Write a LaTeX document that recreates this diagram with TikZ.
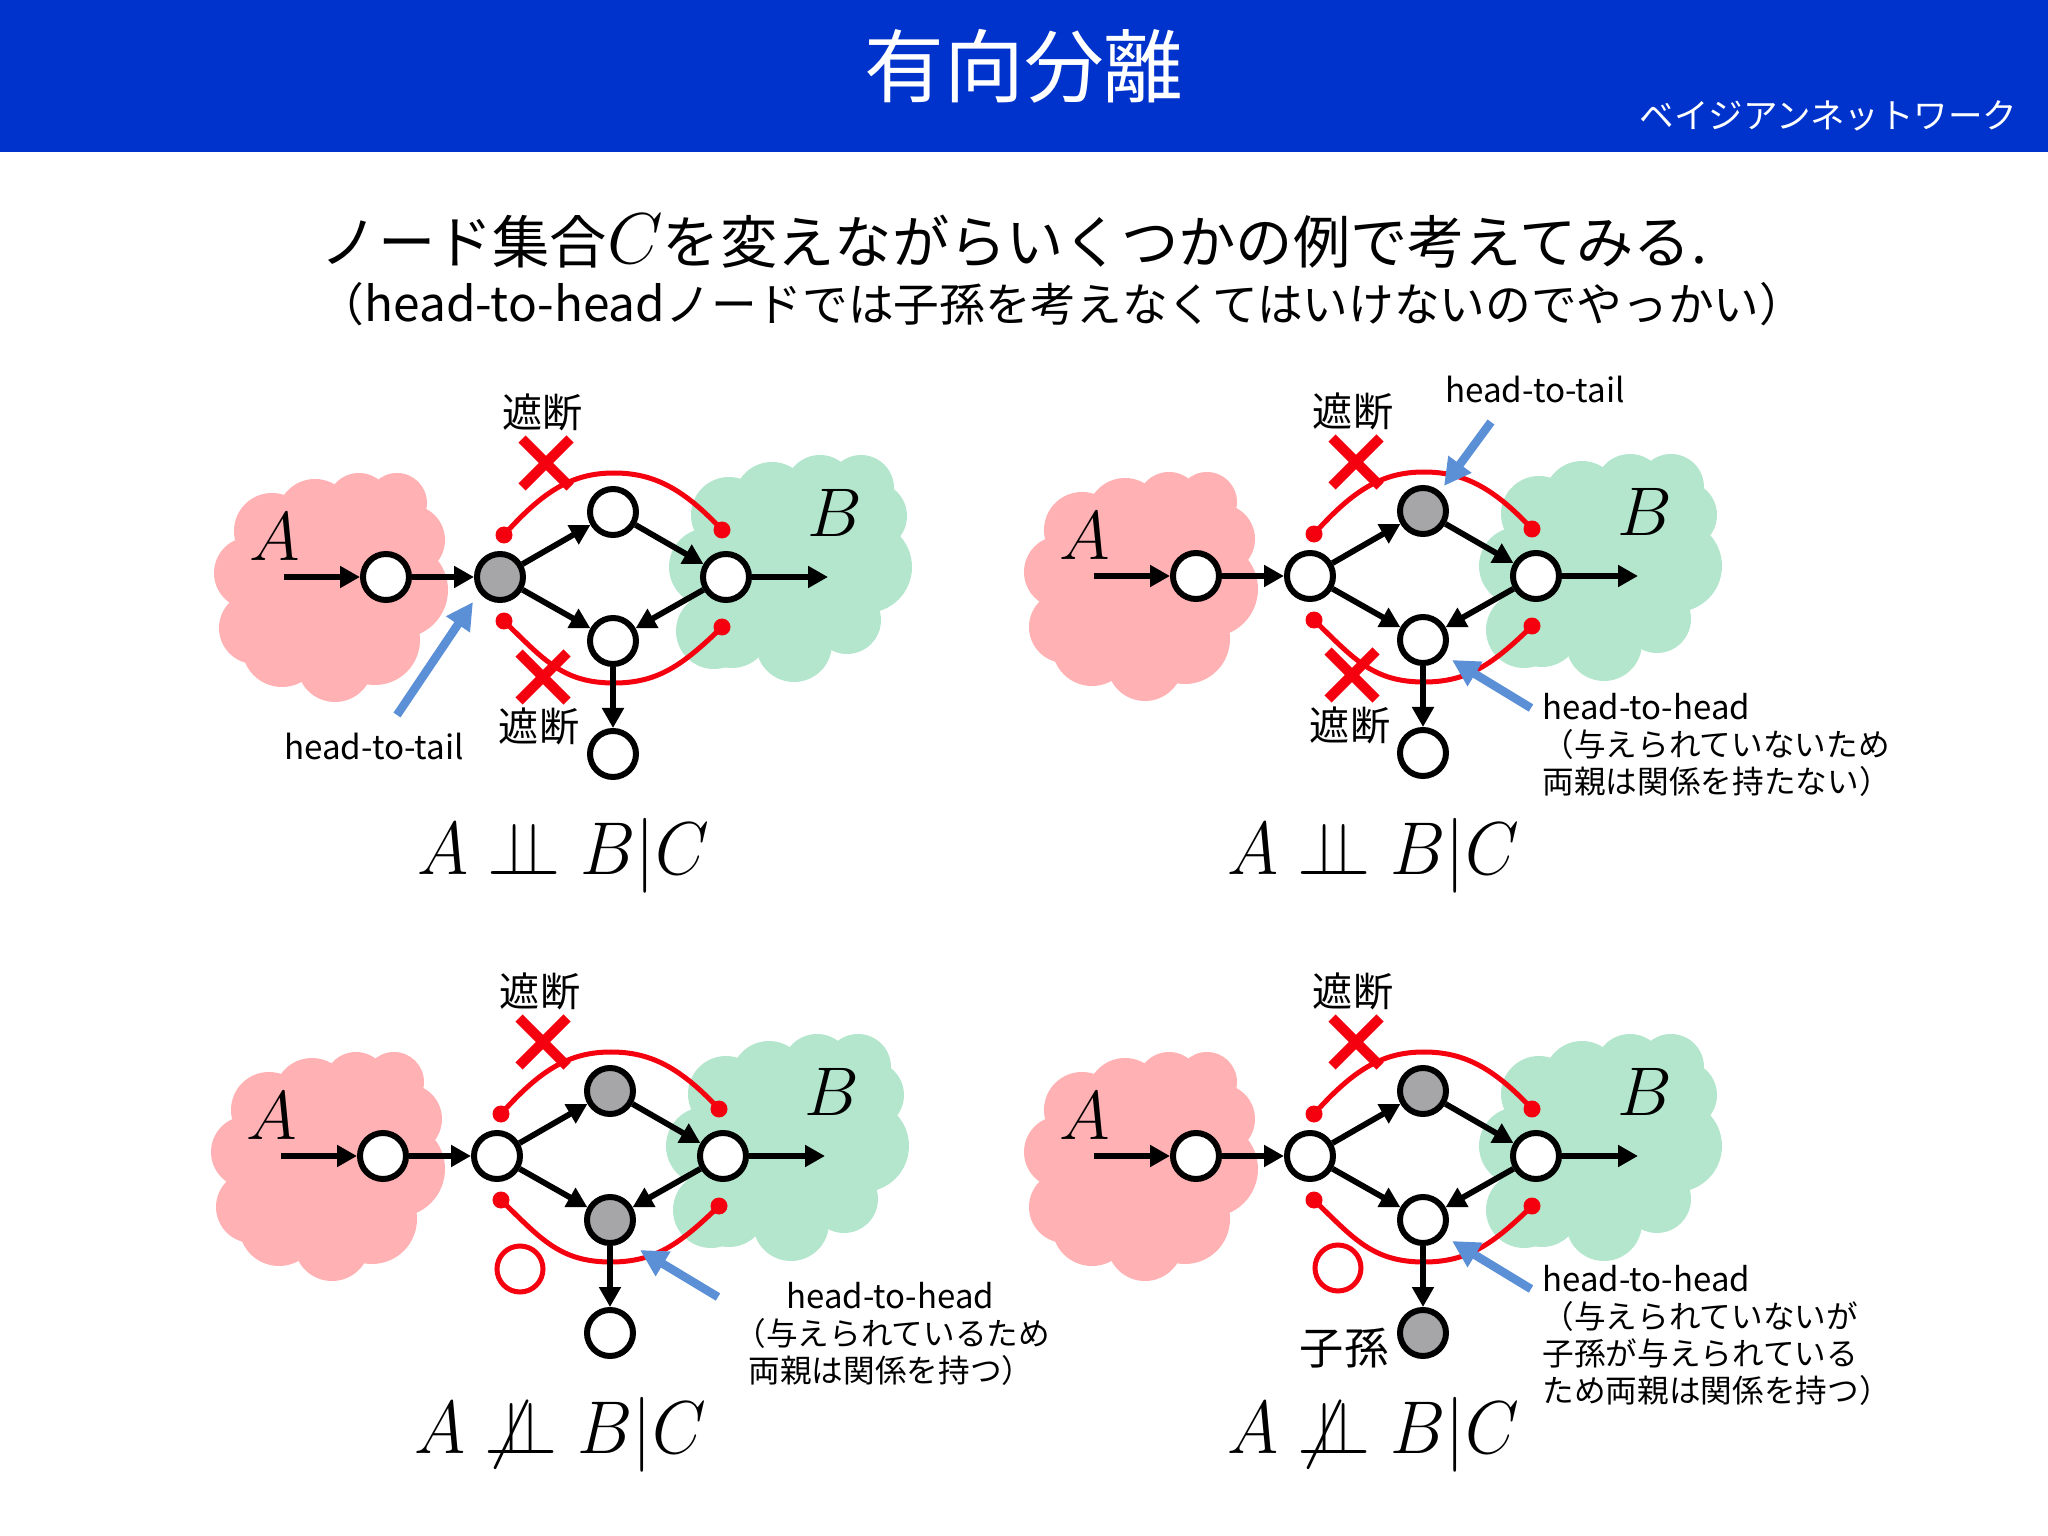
\documentclass[tikz,border=0pt]{standalone}
\usepackage{fix-cm}
\usepackage{graphicx}
\usepackage{fontspec}
\setmainfont{Noto Sans CJK JP}
\usetikzlibrary{arrows.meta,shapes.misc}
\definecolor{headerblue}{HTML}{0033CC}
\definecolor{cloudpink}{HTML}{FFB1B3}
\definecolor{cloudgreen}{HTML}{B3E6CD}
\definecolor{nodegray}{HTML}{A6A6A9}
\definecolor{markred}{HTML}{F5000F}
\definecolor{pointblue}{HTML}{5B8FD6}
\newcommand{\indep}{\mathrel{\perp\!\!\!\perp}}
\newcommand{\hthead}{{\fontsize{9.37}{10.5}\selectfont head-to-head}}
\tikzset{
  netnode/.style={circle,draw=black,line width=.06cm,minimum size=.46cm,inner sep=0pt},
  netarrow/.style={line width=.058cm,-{Triangle[length=.2cm,width=.21cm]}},
  reddot/.style={circle,fill=markred,minimum size=.17cm,inner sep=0pt},
  redpath/.style={draw=markred,line width=.05cm},
  crossmark/.style={cross out,draw=markred,line width=.1cm,minimum size=.38cm,inner sep=0pt},
  okmark/.style={circle,draw=markred,line width=.05cm,minimum size=.46cm,inner sep=0pt},
  pointarrow/.style={draw=pointblue,line width=.085cm,-{Triangle[length=.27cm,width=.27cm]}},
  cuttext/.style={font=\fontsize{11.4}{13}\selectfont,inner sep=0pt},
  smalltext/.style={font=\fontsize{9}{10.5}\selectfont,inner sep=0pt,align=left},
  latintext/.style={font=\fontsize{9.45}{10.5}\selectfont,inner sep=0pt},
  cloudlabel/.style={font=\fontsize{19.6}{22}\selectfont,inner sep=0pt},
  formula/.style={font=\fontsize{21.3}{24}\selectfont,inner sep=0pt}
}
\begin{document}
\begin{tikzpicture}[y=-1cm]
\useasboundingbox (0,0) rectangle (20.48,15.36);
% header
\fill[headerblue] (0,0) rectangle (20.48,1.52);
\node[text=white,font=\fontsize{22.7}{26}\selectfont,inner sep=0pt] (title) at (10.24,.66) {有向分離};
\node[text=white,font=\fontsize{9.82}{12}\selectfont,inner sep=0pt,anchor=east] (subtitle) at (20.18,1.16) {ベイジアンネットワーク};
\node[font=\fontsize{16.3}{19}\selectfont,inner sep=0pt] (lineone) at (10.14,2.41) {ノード集合{\fontsize{20.5}{19}\selectfont$C$}を変えながらいくつかの例で考えてみる.};
\node[font=\fontsize{13}{15}\selectfont,inner sep=0pt] (linetwo) at (10.62,3.04) {（{\fontsize{13.6}{15}\selectfont head-to-head}ノードでは子孫を考えなくてはいけないのでやっかい）};
% the four panels
\foreach \pn/\dx/\dy/\fc/\ft/\fb/\fk in {pa/0/0/nodegray/white/white/white,
    pb/8.10/-.01/white/nodegray/white/white,
    pc/-.03/5.79/white/nodegray/nodegray/white,
    pd/8.10/5.79/white/nodegray/white/nodegray}{
\begin{scope}[shift={(\dx,\dy)}]
\foreach \cx/\cy/\cr in {2.72/5.31/.38,3.15/5.17/.38,3.59/5.05/.32,3.97/5.03/.30,4.10/5.40/.35,
    4.00/5.90/.48,3.75/6.40/.45,3.87/6.40/.32,3.35/6.64/.38,2.82/6.47/.40,2.55/6.28/.36,2.50/5.73/.36,3.30/5.85/.85}
  \fill[cloudpink] (\cx,\cy) circle (\cr);
\foreach \cx/\cy/\cr in {7.72/5.00/.38,8.20/4.90/.35,8.61/4.88/.33,7.29/5.15/.38,8.73/5.16/.34,
    8.66/5.67/.46,7.08/5.67/.39,8.47/6.20/.34,7.14/6.31/.38,7.32/6.30/.38,7.94/6.44/.38,7.88/5.60/.85}
  \fill[cloudgreen] (\cx,\cy) circle (\cr);
\node[cloudlabel] (\pn A) at (2.75,5.37) {$A$};
\node[cloudlabel] (\pn B) at (8.35,5.13) {$B$};
\coordinate (\pn in) at (2.84,5.77);
\coordinate (\pn out) at (8.28,5.77);
\node[netnode,fill=white] (\pn a) at (3.86,5.77) {};
\node[netnode,fill=\fc] (\pn c) at (5.00,5.77) {};
\node[netnode,fill=\ft] (\pn t) at (6.13,5.12) {};
\node[netnode,fill=white] (\pn r) at (7.26,5.77) {};
\node[netnode,fill=\fb] (\pn b) at (6.13,6.41) {};
\node[netnode,fill=\fk] (\pn k) at (6.13,7.54) {};
\node[reddot] (\pn tl) at (5.04,5.35) {};
\node[reddot] (\pn tr) at (7.22,5.30) {};
\node[reddot] (\pn bl) at (5.04,6.21) {};
\node[reddot] (\pn br) at (7.22,6.27) {};
\coordinate (\pn tm) at (6.14,4.73);
\coordinate (\pn bm) at (6.14,6.83);
\draw[redpath] (\pn tl.center) .. controls (5.44,4.90) and (5.73,4.73) .. (\pn tm) .. controls (6.53,4.73) and (6.83,4.88) .. (\pn tr.center);
\draw[redpath] (\pn bl.center) .. controls (5.44,6.60) and (5.63,6.83) .. (\pn bm) .. controls (6.58,6.83) and (6.83,6.65) .. (\pn br.center);
\draw[netarrow] (\pn in) -- (\pn a);
\draw[netarrow] (\pn a) -- (\pn c);
\draw[netarrow] (\pn c) -- (\pn t);
\draw[netarrow] (\pn c) -- (\pn b);
\draw[netarrow] (\pn t) -- (\pn r);
\draw[netarrow] (\pn r) -- (\pn b);
\draw[netarrow] (\pn b) -- (\pn k);
\draw[netarrow] (\pn r) -- (\pn out);
\node[crossmark] (\pn xt) at (5.46,4.63) {};
\node[cuttext] (\pn cut) at (5.43,4.12) {遮断};
\end{scope}
}
% lower crosses only in the upper panels
\node[crossmark] (paxb) at (5.43,6.77) {};
\node[cuttext] (pacutb) at (5.39,7.26) {遮断};
\node[crossmark] (pbxb) at (13.52,6.75) {};
\node[cuttext] (pbcutb) at (13.50,7.25) {遮断};
\node[okmark] (pcok) at (5.20,12.69) {};
\node[okmark] (pdok) at (13.38,12.68) {};
% formulas
\node[formula] (paf) at (5.63,8.56) {\scalebox{.93}[1]{$A \indep B|C$}};
\node[formula] (pbf) at (13.73,8.56) {\scalebox{.93}[1]{$A \indep B|C$}};
\node[formula] (pcf) at (5.60,14.35) {\scalebox{.93}[1]{$A \not\indep B|C$}};
\node[formula] (pdf) at (13.73,14.35) {\scalebox{.93}[1]{$A \not\indep B|C$}};
% notes
\node[latintext] (panote) at (3.74,7.46) {head-to-tail};
\node[latintext] (pbnotet) at (15.35,3.90) {head-to-tail};
\node[smalltext,anchor=north west] (pbnote) at (15.42,6.93) {\hthead\\（与えられていないため\\両親は関係を持たない）};
\node[smalltext,anchor=north west] (pcnote) at (7.48,12.82) {\hspace*{.38cm}\hthead\\\hspace*{-.14cm}（与えられているため\\両親は関係を持つ）};
\node[smalltext,anchor=north west] (pdnote) at (15.42,12.65) {\hthead\\（与えられていないが\\子孫が与えられている\\ため両親は関係を持つ）};
\node[font=\fontsize{12.6}{15}\selectfont,inner sep=0pt] (pdkin) at (13.44,13.48) {子孫};
% blue pointers
\coordinate (pa1) at (3.97,7.15); \coordinate (pa2) at (4.73,6.02);
\coordinate (pb1) at (14.91,4.22); \coordinate (pb2) at (14.44,4.86);
\coordinate (pb3) at (15.31,7.08); \coordinate (pb4) at (14.52,6.60);
\coordinate (pc1) at (7.18,12.97); \coordinate (pc2) at (6.40,12.50);
\coordinate (pd1) at (15.31,12.89); \coordinate (pd2) at (14.52,12.41);
\draw[pointarrow] (pa1) -- (pa2);
\draw[pointarrow] (pb1) -- (pb2);
\draw[pointarrow] (pb3) -- (pb4);
\draw[pointarrow] (pc1) -- (pc2);
\draw[pointarrow] (pd1) -- (pd2);
\end{tikzpicture}
\end{document}
